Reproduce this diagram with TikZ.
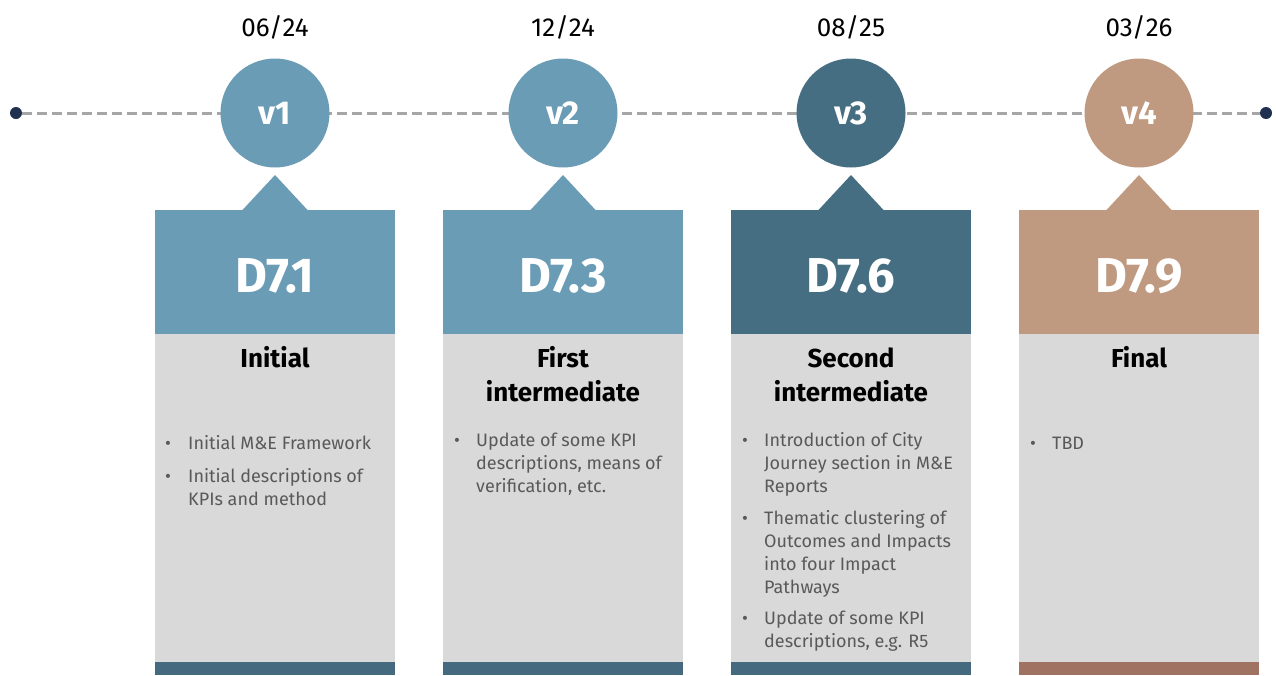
\documentclass[tikz,border=0pt]{standalone}
\usepackage{fontspec}
\setmainfont{Fira Sans}
\definecolor{lblue}{HTML}{6A9CB5}
\definecolor{dblue}{HTML}{466E83}
\definecolor{tan}{HTML}{BF9A80}
\definecolor{barblue}{HTML}{456A80}
\definecolor{barbrown}{HTML}{A07261}
\definecolor{panel}{HTML}{D9D9D9}
\definecolor{txtgrey}{HTML}{595959}
\definecolor{dotc}{HTML}{1F3050}
\definecolor{dashc}{HTML}{A6A6A6}
\tikzset{
  enddot/.style={circle,fill=dotc,inner sep=0pt,minimum size=12pt},
  vcirc/.style={circle,inner sep=0pt,minimum size=109pt,text=white,font=\fontsize{33}{33}\selectfont\bfseries},
  datelbl/.style={anchor=base,font=\fontsize{26}{26}\selectfont,text=black},
  headbox/.style={rectangle,inner sep=0pt,minimum width=240pt,minimum height=124pt,text=white,font=\fontsize{49}{49}\selectfont\bfseries},
  panelbox/.style={rectangle,fill=panel,inner sep=0pt,minimum width=240pt,minimum height=328pt},
  barbox/.style={rectangle,inner sep=0pt,minimum width=240pt,minimum height=13pt},
  titlelbl/.style={anchor=base,align=center,font=\fontsize{26}{34}\selectfont\bfseries,text=black},
  bullettxt/.style={anchor=base west,align=left,inner sep=0pt,font=\fontsize{18}{23}\selectfont,text=txtgrey},
  bulletdot/.style={anchor=base,inner sep=0pt,font=\fontsize{18}{23}\selectfont,text=txtgrey},
  dashline/.style={draw=dashc,line width=3pt,dash pattern=on 10pt off 5pt}
}
\begin{document}
\begin{tikzpicture}[x=1pt,y=-1pt]
\useasboundingbox (0,0) rectangle (1276,675);
\node[enddot] (dotL) at (16,113) {};
\node[enddot] (dotR) at (1266,113) {};
\draw[dashline] (dotL.east) -- (dotR.west);
% columns
\foreach \i/\cx/\col/\bar/\v/\d/\D in {1/275/lblue/barblue/v1/06\slash 24/D7.1, 2/563/lblue/barblue/v2/12\slash 24/D7.3, 3/851/dblue/barblue/v3/08\slash 25/D7.6, 4/1139/tan/barbrown/v4/03\slash 26/D7.9}{
  \node[datelbl] (date\i) at (\cx,36.5) {\d};
  \node[vcirc,fill=\col] (circ\i) at (\cx,113) {\v};
  \fill[\col] (\cx-33,210.5) -- (\cx,175) -- (\cx+33,210.5) -- cycle;
  \node[headbox,fill=\col] (head\i) at (\cx,272) {};
  \node[anchor=base,text=white,inner sep=0pt,font=\fontsize{49}{49}\selectfont\bfseries] (hl\i) at (\cx,292) {\D};
  \node[panelbox] (panel\i) at (\cx,498) {};
  \node[barbox,fill=\bar] (bar\i) at (\cx,668.5) {};
}
% titles (base anchor = last line's baseline)
\node[titlelbl] (t1) at (275,367) {Initial};
\node[titlelbl] (t2) at (563,401) {First\\intermediate};
\node[titlelbl] (t3) at (851,401) {Second\\intermediate};
\node[titlelbl] (t4) at (1139,367) {Final};
% bullets column 1
\node[bulletdot] (b11d) at (168,449) {•};
\node[bullettxt] (b11) at (188,449) {Initial M\&E Framework};
\node[bulletdot] (b12d) at (168,482) {•};
\node[bullettxt] (b12) at (188,505) {Initial descriptions of\\KPIs and method};
% column 2
\node[bulletdot] (b21d) at (457,446) {•};
\node[bullettxt] (b21) at (476,492) {Update of some KPI\\descriptions, means of\\verification, etc.};
% column 3
\node[bulletdot] (b31d) at (745,446) {•};
\node[bullettxt] (b31) at (764,492) {Introduction of City\\Journey section in M\&E\\Reports};
\node[bulletdot] (b32d) at (745,524) {•};
\node[bullettxt] (b32) at (764,593) {Thematic clustering of\\Outcomes and Impacts\\into four Impact\\Pathways};
\node[bulletdot] (b33d) at (745,624) {•};
\node[bullettxt] (b33) at (764,647) {Update of some KPI\\descriptions, e.g. R5};
% column 4
\node[bulletdot] (b41d) at (1033,449) {•};
\node[bullettxt] (b41) at (1052,449) {TBD};
\end{tikzpicture}
\end{document}
